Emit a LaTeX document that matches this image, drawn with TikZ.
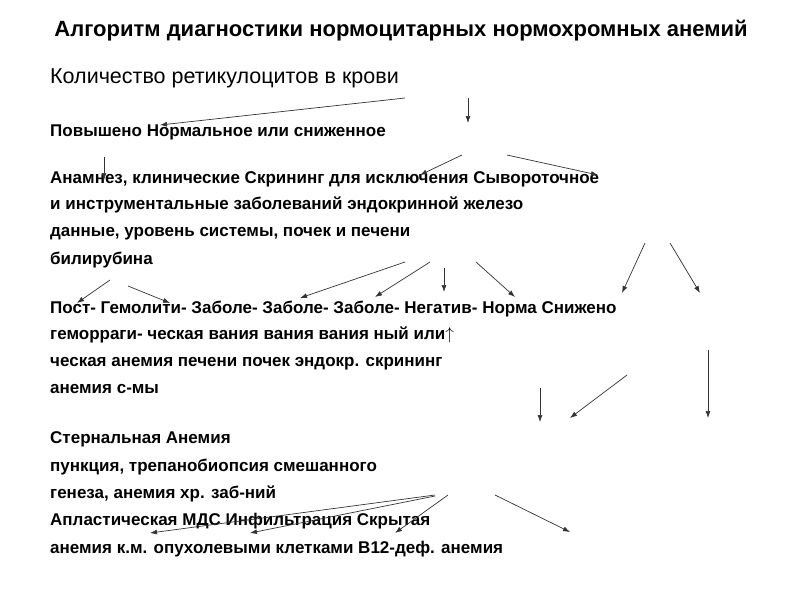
\documentclass[tikz,border=0pt]{standalone}
\usepackage{fontspec}
\setmainfont{Liberation Sans}
\usetikzlibrary{arrows.meta}
\begin{document}
\begin{tikzpicture}[x=1pt,y=-1pt,
  ln/.style={anchor=base west,inner sep=0pt,font=\fontsize{17}{17}\bfseries\selectfont},
  ar/.style={-{Latex[length=7pt,width=5pt]},line width=0.7pt,draw=black!80}]
\useasboundingbox (0,0) rectangle (800,600);
\node[anchor=base,inner sep=0pt,font=\fontsize{22}{22}\bfseries\selectfont] (t) at (401,36) {Алгоритм диагностики нормоцитарных нормохромных анемий};
\node[anchor=base west,inner sep=0pt,font=\fontsize{21.5}{22}\selectfont] (k) at (50,83) {Количество ретикулоцитов в крови};
\foreach \y/\s [count=\i] in {136/{Повышено Нормальное или сниженное},
 183/{Анамнез, клинические Скрининг для исключения Сывороточное},
 209/{и инструментальные заболеваний эндокринной железо},
 236/{данные, уровень системы, почек и печени},
 264/{билирубина},
 313/{Пост- Гемолити- Заболе- Заболе- Заболе- Негатив- Норма Снижено},
 339/{геморраги- ческая вания вания вания ный или$\uparrow$},
 366/{ческая анемия печени почек эндокр. скрининг},
 393/{анемия с-мы},
 443/{Стернальная Анемия},
 471/{пункция, трепанобиопсия смешанного},
 498/{генеза, анемия хр. заб-ний},
 525/{Апластическая МДС Инфильтрация Скрытая},
 553/{анемия к.м. опухолевыми клетками В12-деф. анемия}}
 \node[ln] (l\i) at (50,\y) {\s};
\foreach \a/\b/\c/\d [count=\j] in {405/98/160/125, 468/98/468/123, 104/157/104/180,
 462/155/420/175, 507/155/598/175, 405/262/300/298, 430/262/375/297, 444/268/444/292,
 476/262/515/297, 645/243/622/293, 670/243/700/293, 110/280/77/303, 128/286/170/303,
 708/350/708/418, 540/388/540/422, 627/375/570/418, 435/495/150/533, 435/496/250/533,
 448/495/395/533, 495/495/570/532}
{ \coordinate (s\j) at (\a,\b); \coordinate (e\j) at (\c,\d); \draw[ar] (s\j) -- (e\j); }
\end{tikzpicture}
\end{document}
